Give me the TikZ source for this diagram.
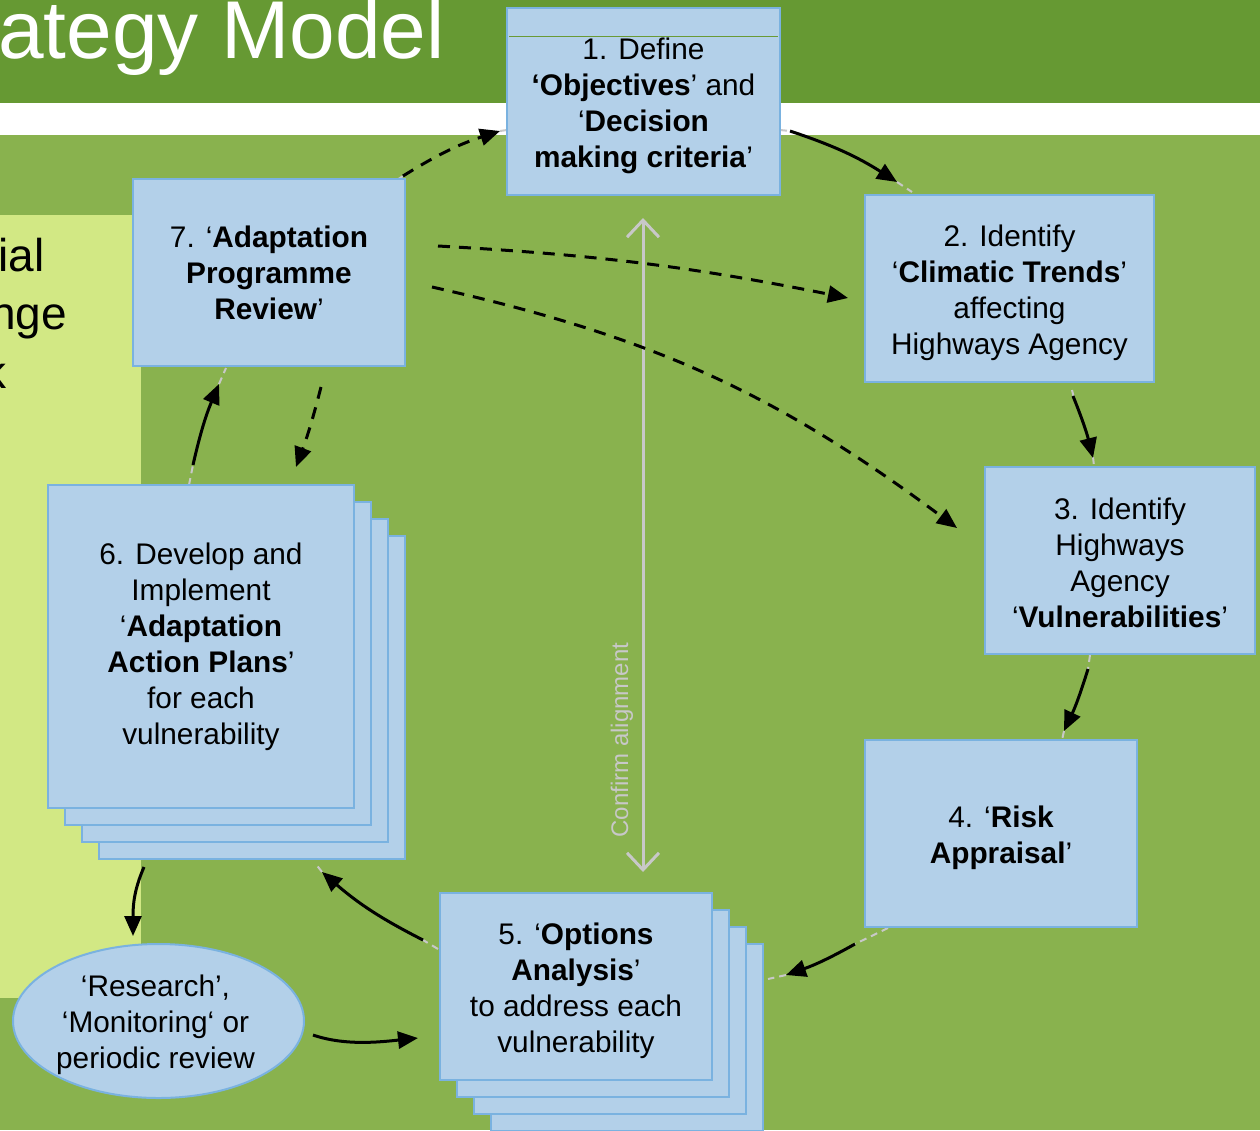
\documentclass[tikz,border=0pt]{standalone}
\usepackage{fontspec}
\setmainfont{Liberation Sans}
\usetikzlibrary{arrows.meta,shapes.geometric}
\definecolor{dkgreen}{RGB}{102,153,51}
\definecolor{mdgreen}{RGB}{137,178,78}
\definecolor{ltpanel}{RGB}{210,232,132}
\definecolor{boxfill}{RGB}{179,208,233}
\definecolor{boxline}{RGB}{122,178,224}
\definecolor{faint}{RGB}{200,200,200}
\definecolor{hdrline}{RGB}{106,154,53}
\newcommand\bxfont{\fontsize{29.8}{36}\selectfont}
\tikzset{
  box/.style={draw=boxline, fill=boxfill, line width=2pt, inner sep=0pt},
  boxtext/.style={inner sep=0pt, align=center, font=\bxfont},
  flow/.style={line width=3pt, -{Triangle[length=20pt,width=17pt]}},
  dflow/.style={flow, dash pattern=on 12pt off 9pt},
  faintdash/.style={draw=faint, line width=2pt, dash pattern=on 7pt off 5pt},
  conf/.style={draw=faint, line width=3pt, {Straight Barb[length=17pt,width=32pt]}-{Straight Barb[length=17pt,width=32pt]}},
  bigtext/.style={inner sep=0pt, anchor=base east}
}
\begin{document}
\begin{tikzpicture}[x=1pt,y=-1pt]
\useasboundingbox (0,0) rectangle (1260,1130);
\begin{scope}
\clip (0,0) rectangle (1260,1130);
% backgrounds
\fill[mdgreen] (0,0) rectangle (1260,1130);
\fill[dkgreen] (0,0) rectangle (1260,103);
\fill[white] (0,103) rectangle (1260,135);
\fill[ltpanel] (0,215) rectangle (141,998);
% title and panel fragments
\node[bigtext, text=white, font=\fontsize{82}{82}\selectfont] (title) at (445,58) {ategy Model};
\node[bigtext, font=\fontsize{46}{46}\selectfont] (p1) at (45,271) {ial};
\node[bigtext, font=\fontsize{46}{46}\selectfont] (p2) at (67,329) {nge};
\node[bigtext, font=\fontsize{46}{46}\selectfont] (p3) at (7,388) {k};

% faint circle fragments
\draw[faintdash] (397,180) -- (403,176);
\draw[faintdash] (500,131) -- (507,130);
\draw[faintdash] (780,130) -- (790,131);
\draw[faintdash] (897,182) -- (912,192);
\draw[faintdash] (1072,390) -- (1074,398);
\draw[faintdash] (1093,457) -- (1094,466);
\draw[faintdash] (1090,655) -- (1088,669);
\draw[faintdash] (1064,731) -- (1062,740);
\draw[faintdash] (888,928) -- (855,944);
\draw[faintdash] (786,975) -- (768,979);
\draw[faintdash] (438,949) -- (423,940);
\draw[faintdash] (322,872) -- (315,863);
\draw[faintdash] (189,485) -- (193,465);
\draw[faintdash] (219,384) -- (226,368);

% boxes
\node[box, minimum width=273pt, minimum height=187pt] (b1) at (643.5,101.5) {};
\draw[hdrline, line width=1pt] (509,36) -- (778,36);
\node[boxtext] (t1) at ([yshift=-4pt]b1.center)
  {1. Define\\\textbf{‘Objectives}’ and\\‘\textbf{Decision}\\\textbf{making criteria}’};
\node[box, minimum width=289pt, minimum height=187pt] (b2) at (1009.5,288.5) {};
\node[boxtext] (t2) at ([yshift=-4pt]b2.center)
  {2. Identify\\‘\textbf{Climatic Trends}’\\affecting\\Highways Agency};
\node[box, minimum width=270pt, minimum height=187pt] (b3) at (1120,560.5) {};
\node[boxtext] (t3) at ([yshift=-2pt]b3.center)
  {3. Identify\\Highways\\Agency\\‘\textbf{Vulnerabilities}’};
\node[box, minimum width=272pt, minimum height=187pt] (b4) at (1001,833.5) {};
\node[boxtext] (t4) at ([yshift=-4pt]b4.center)
  {4. ‘\textbf{Risk}\\\textbf{Appraisal}’};
\node[box, minimum width=272pt, minimum height=187pt] (b5c) at (627,1037.5) {};
\node[box, minimum width=272pt, minimum height=187pt] (b5b) at (610,1020.5) {};
\node[box, minimum width=272pt, minimum height=187pt] (b5a) at (593,1003.5) {};
\node[box, minimum width=272pt, minimum height=187pt] (b5) at (576,986.5) {};
\node[boxtext] (t5) at ([yshift=-4pt]b5.center)
  {5. ‘\textbf{Options}\\\textbf{Analysis}’\\to address each\\vulnerability};
\node[box, minimum width=306pt, minimum height=323pt] (b6c) at (252,697.5) {};
\node[box, minimum width=306pt, minimum height=323pt] (b6b) at (235,680.5) {};
\node[box, minimum width=306pt, minimum height=323pt] (b6a) at (218,663.5) {};
\node[box, minimum width=306pt, minimum height=323pt] (b6) at (201,646.5) {};
\node[boxtext] (t6) at ([yshift=0pt]b6.center)
  {6. Develop and\\Implement\\‘\textbf{Adaptation}\\\textbf{Action Plans}’\\for each\\vulnerability};
\node[box, minimum width=272pt, minimum height=187pt] (b7) at (269,272.5) {};
\node[boxtext] (t7) at ([yshift=0pt]b7.center)
  {7. ‘\textbf{Adaptation}\\\textbf{Programme}\\\textbf{Review}’};
\node[box, ellipse, minimum width=291pt, minimum height=154pt] (res) at (158.5,1021) {};
\node[boxtext] (tr) at ([yshift=-4pt,xshift=-3pt]res.center)
  {‘Research’,\\‘Monitoring‘ or\\periodic review};

% confirm alignment
\coordinate (ca1) at (643,218);
\coordinate (ca2) at (643,872);
\draw[conf] (ca1) -- (ca2);
\node[rotate=90, anchor=base, inner sep=0pt, text=faint, font=\fontsize{24}{24}\selectfont] (ctext) at (628,740) {Confirm alignment};

% arrow end points
\coordinate (s71) at (403,176); \coordinate (e71) at (500,131);
\coordinate (s12) at (790,131); \coordinate (e12) at (897,182);
\coordinate (s23) at (1073,396); \coordinate (e23) at (1093,458);
\coordinate (s34) at (1088,669); \coordinate (e34) at (1064,731);
\coordinate (s45) at (855,944); \coordinate (e45) at (786,975);
\coordinate (s56) at (423,940); \coordinate (e56) at (322,872);
\coordinate (s67) at (193,465); \coordinate (e67) at (219,384);
\coordinate (s76) at (321,387); \coordinate (e76) at (296,467);
\coordinate (s72) at (438,246); \coordinate (e72) at (848,298);
\coordinate (s73) at (432,287); \coordinate (e73) at (957,528);
\coordinate (s6r) at (144,867); \coordinate (e6r) at (133,936);
\coordinate (sr5) at (313,1035); \coordinate (er5) at (418,1038);

\draw[dflow] (s71) to[bend left=7] (e71);
\draw[flow] (s12) to[bend left=7] (e12);
\draw[flow] (s23) to[bend left=4] (e23);
\draw[flow] (s34) to[bend left=4] (e34);
\draw[flow] (s45) to[bend left=5] (e45);
\draw[flow] (s56) to[bend left=7] (e56);
\draw[flow] (s67) to[bend left=5] (e67);
\draw[dflow] (s76) to[bend left=3] (e76);
\draw[dflow] (s72) to[bend left=4] (e72);
\draw[dflow] (s73) to[bend left=12] (e73);
\draw[flow] (s6r) .. controls (134,890) and (133,905) .. (e6r);
\draw[flow] (sr5) .. controls (345,1046) and (380,1042) .. (er5);
\end{scope}
\end{tikzpicture}
\end{document}
